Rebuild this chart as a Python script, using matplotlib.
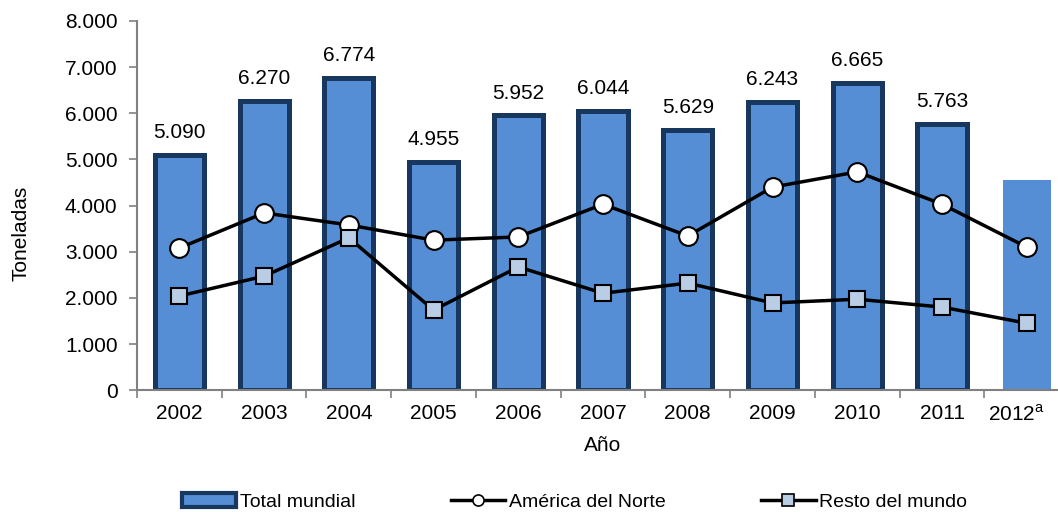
import numpy as np
import matplotlib.pyplot as plt
from matplotlib.patches import Patch
from matplotlib.lines import Line2D
from matplotlib.ticker import FuncFormatter

plt.rcParams['font.family'] = ['Liberation Sans', 'DejaVu Sans']

years = ['2002', '2003', '2004', '2005', '2006', '2007', '2008', '2009', '2010', '2011', r'2012$^{\mathregular{a}}$']
total = [5090, 6270, 6774, 4955, 5952, 6044, 5629, 6243, 6665, 5763, 4550]
norte = [3080, 3840, 3580, 3250, 3320, 4030, 3340, 4400, 4730, 4030, 3100]
resto = [2040, 2470, 3300, 1735, 2670, 2100, 2320, 1890, 1970, 1800, 1450]

bar_fill = '#558ED5'
bar_edge = '#17375E'
fs = 15

fig = plt.figure(figsize=(10.58, 5.12), dpi=100)
# the plot area runs a bit past the right edge of the picture, as in the original
ax = fig.add_axes([0.1295, 0.238, 0.881, 0.721])

x = np.arange(len(years))
ax.bar(x[:-1], total[:-1], width=0.58, color=bar_fill, edgecolor=bar_edge, linewidth=3.6)
ax.bar(x[-1], total[-1], width=0.57, color=bar_fill, linewidth=0)

for xi, v in zip(x[:-1], total[:-1]):
    ax.text(xi, v + 280, f'{v/1000:.3f}', ha='center', va='bottom', fontsize=fs)

ax.plot(x, norte, color='black', lw=2.5, marker='o', ms=13.5, mfc='white', mec='black', mew=1.5, zorder=4)
ax.plot(x, resto, color='black', lw=2.5, marker='s', ms=12, mfc='#B9CDE5', mec='black', mew=1.5, zorder=4)

ax.set_xlim(-0.5, len(years) - 0.5)
ax.set_ylim(0, 8000)
ax.set_yticks(np.arange(0, 8001, 1000))
ax.yaxis.set_major_formatter(FuncFormatter(lambda v, p: '0' if v == 0 else f'{v/1000:.3f}'))
# last label sits a little to the left so it stays inside the picture
label_pos = x.astype(float)
label_pos[-1] -= 0.12
ax.set_xticks(label_pos)
ax.set_xticklabels(years)
ax.set_xticks(np.arange(-0.5, len(years)), minor=True)
ax.tick_params(axis='x', which='major', length=0, labelsize=fs, pad=10)
ax.tick_params(axis='x', which='minor', length=6, color='#808080', width=1.2)
ax.tick_params(axis='y', length=6, color='#808080', width=1.2, labelsize=fs, pad=8)

for s in ['top', 'right']:
    ax.spines[s].set_visible(False)
for s in ['left', 'bottom']:
    ax.spines[s].set_color('#808080')
    ax.spines[s].set_linewidth(1.5)

ax.set_ylabel('Toneladas', fontsize=fs)
ax.yaxis.set_label_coords(-0.114, 0.425)
ax.set_xlabel('Año', fontsize=fs, labelpad=8)

handles = [
    Patch(facecolor=bar_fill, edgecolor=bar_edge, linewidth=3),
    Line2D([], [], color='black', lw=2.5, marker='o', ms=8, mfc='white', mec='black', mew=1.2),
    Line2D([], [], color='black', lw=2.5, marker='s', ms=8, mfc='#B9CDE5', mec='black', mew=1.2),
]
fig.legend(handles, ['Total mundial', 'América del Norte', 'Resto del mundo'],
           loc='center', bbox_to_anchor=(0.543, 0.02), ncol=3, frameon=False,
           fontsize=14, columnspacing=4.9, handlelength=2.8, handletextpad=0.2)

fig.savefig('out.png', dpi=100)
